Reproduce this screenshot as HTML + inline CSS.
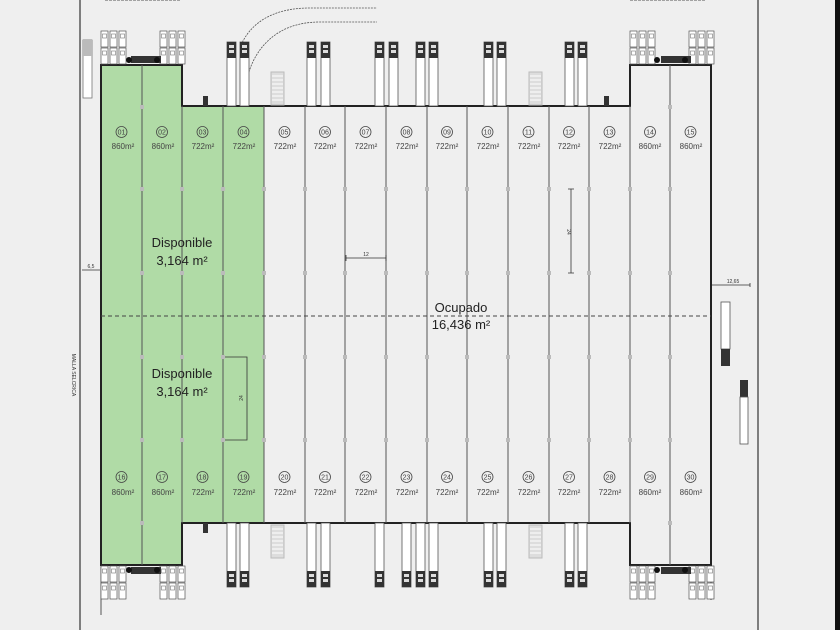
<!DOCTYPE html>
<html><head><meta charset="utf-8"><style>
html,body{margin:0;padding:0;background:#111;}
svg{display:block;font-family:"Liberation Sans",sans-serif;}
</style></head><body>
<svg width="840" height="630" viewBox="0 0 840 630" xmlns="http://www.w3.org/2000/svg">
<defs>
<g id="trk"><rect x="0" y="0" width="9" height="64" fill="#fff" stroke="#555" stroke-width="0.8"/><rect x="0" y="0" width="9" height="16" fill="#333"/><rect x="2" y="3" width="5" height="3" fill="#ddd"/><rect x="2" y="8" width="5" height="3" fill="#ddd"/></g>
<g id="trkb"><rect x="0" y="0" width="9" height="64" fill="#fff" stroke="#555" stroke-width="0.8"/><rect x="0" y="48" width="9" height="16" fill="#333"/><rect x="2" y="51" width="5" height="3" fill="#ddd"/><rect x="2" y="56" width="5" height="3" fill="#ddd"/></g>
<g id="car"><rect x="0" y="0" width="7" height="16" fill="#fff" stroke="#555" stroke-width="0.7"/><rect x="1.5" y="3" width="4" height="4" fill="none" stroke="#777" stroke-width="0.6"/></g>
<g id="park"><use href="#car" x="0"/><use href="#car" x="9"/><use href="#car" x="18"/><use href="#car" x="0" y="17"/><use href="#car" x="9" y="17"/><use href="#car" x="18" y="17"/></g>
<g id="ramp"><rect x="0" y="0" width="13" height="33" fill="#ddd" stroke="#bbb"/><path d="M1 4h11M1 8h11M1 12h11M1 16h11M1 20h11M1 24h11M1 28h11" stroke="#fff" stroke-width="1"/></g>
</defs>
<rect x="0" y="0" width="835" height="630" fill="#efefef"/>
<rect x="835" y="0" width="5" height="630" fill="#111"/>
<line x1="80" y1="0" x2="80" y2="630" stroke="#333" stroke-width="1.2"/>
<line x1="758" y1="0" x2="758" y2="630" stroke="#333" stroke-width="1.2"/>
<line x1="101" y1="565" x2="101" y2="615" stroke="#555" stroke-width="1"/>
<line x1="711" y1="565" x2="711" y2="600" stroke="#555" stroke-width="1"/>
<!-- green -->
<rect x="101" y="65" width="81" height="500" fill="#b0dba6"/>
<rect x="182" y="106" width="82" height="417" fill="#b0dba6"/>
<!-- building outline -->
<path d="M101 65H182V106H630V65H711V565H630V523H182V565H101Z" fill="none" stroke="#222" stroke-width="2"/>
<g stroke="#555" stroke-width="1">
<line x1="142" y1="65" x2="142" y2="565"/><line x1="182" y1="106" x2="182" y2="523"/>
<line x1="223" y1="106" x2="223" y2="523"/><line x1="264" y1="106" x2="264" y2="523"/>
<line x1="305" y1="106" x2="305" y2="523"/><line x1="345" y1="106" x2="345" y2="523"/>
<line x1="386" y1="106" x2="386" y2="523"/><line x1="427" y1="106" x2="427" y2="523"/>
<line x1="467" y1="106" x2="467" y2="523"/><line x1="508" y1="106" x2="508" y2="523"/>
<line x1="549" y1="106" x2="549" y2="523"/><line x1="589" y1="106" x2="589" y2="523"/>
<line x1="630" y1="106" x2="630" y2="523"/><line x1="670" y1="65" x2="670" y2="565"/>
</g>
<line x1="101" y1="316" x2="711" y2="316" stroke="#444" stroke-width="1" stroke-dasharray="4,3"/>
<!-- grid marks -->
<g fill="#bbb">
<rect x="140" y="105" width="4" height="4"/><rect x="668" y="105" width="4" height="4"/>
<rect x="140" y="187" width="4" height="4"/><rect x="180" y="187" width="4" height="4"/><rect x="221" y="187" width="4" height="4"/><rect x="262" y="187" width="4" height="4"/><rect x="303" y="187" width="4" height="4"/><rect x="343" y="187" width="4" height="4"/><rect x="384" y="187" width="4" height="4"/><rect x="425" y="187" width="4" height="4"/><rect x="465" y="187" width="4" height="4"/><rect x="506" y="187" width="4" height="4"/><rect x="547" y="187" width="4" height="4"/><rect x="587" y="187" width="4" height="4"/><rect x="628" y="187" width="4" height="4"/><rect x="668" y="187" width="4" height="4"/>
<rect x="140" y="271" width="4" height="4"/><rect x="180" y="271" width="4" height="4"/><rect x="221" y="271" width="4" height="4"/><rect x="262" y="271" width="4" height="4"/><rect x="303" y="271" width="4" height="4"/><rect x="343" y="271" width="4" height="4"/><rect x="384" y="271" width="4" height="4"/><rect x="425" y="271" width="4" height="4"/><rect x="465" y="271" width="4" height="4"/><rect x="506" y="271" width="4" height="4"/><rect x="547" y="271" width="4" height="4"/><rect x="587" y="271" width="4" height="4"/><rect x="628" y="271" width="4" height="4"/><rect x="668" y="271" width="4" height="4"/>
<rect x="140" y="355" width="4" height="4"/><rect x="180" y="355" width="4" height="4"/><rect x="221" y="355" width="4" height="4"/><rect x="262" y="355" width="4" height="4"/><rect x="303" y="355" width="4" height="4"/><rect x="343" y="355" width="4" height="4"/><rect x="384" y="355" width="4" height="4"/><rect x="425" y="355" width="4" height="4"/><rect x="465" y="355" width="4" height="4"/><rect x="506" y="355" width="4" height="4"/><rect x="547" y="355" width="4" height="4"/><rect x="587" y="355" width="4" height="4"/><rect x="628" y="355" width="4" height="4"/><rect x="668" y="355" width="4" height="4"/>
<rect x="140" y="438" width="4" height="4"/><rect x="180" y="438" width="4" height="4"/><rect x="221" y="438" width="4" height="4"/><rect x="262" y="438" width="4" height="4"/><rect x="303" y="438" width="4" height="4"/><rect x="343" y="438" width="4" height="4"/><rect x="384" y="438" width="4" height="4"/><rect x="425" y="438" width="4" height="4"/><rect x="465" y="438" width="4" height="4"/><rect x="506" y="438" width="4" height="4"/><rect x="547" y="438" width="4" height="4"/><rect x="587" y="438" width="4" height="4"/><rect x="628" y="438" width="4" height="4"/><rect x="668" y="438" width="4" height="4"/>
<rect x="140" y="521" width="4" height="4"/><rect x="668" y="521" width="4" height="4"/>
</g>
<!-- labels -->
<g font-size="8" fill="#444" text-anchor="middle">
<g fill="none" stroke="#444" stroke-width="0.8">
<circle cx="121.5" cy="132" r="5.5"/><circle cx="162" cy="132" r="5.5"/><circle cx="202.5" cy="132" r="5.5"/><circle cx="243.5" cy="132" r="5.5"/><circle cx="284.5" cy="132" r="5.5"/><circle cx="325" cy="132" r="5.5"/><circle cx="365.5" cy="132" r="5.5"/><circle cx="406.5" cy="132" r="5.5"/><circle cx="447" cy="132" r="5.5"/><circle cx="487.5" cy="132" r="5.5"/><circle cx="528.5" cy="132" r="5.5"/><circle cx="569" cy="132" r="5.5"/><circle cx="609.5" cy="132" r="5.5"/><circle cx="650" cy="132" r="5.5"/><circle cx="690.5" cy="132" r="5.5"/>
<circle cx="121.5" cy="477" r="5.5"/><circle cx="162" cy="477" r="5.5"/><circle cx="202.5" cy="477" r="5.5"/><circle cx="243.5" cy="477" r="5.5"/><circle cx="284.5" cy="477" r="5.5"/><circle cx="325" cy="477" r="5.5"/><circle cx="365.5" cy="477" r="5.5"/><circle cx="406.5" cy="477" r="5.5"/><circle cx="447" cy="477" r="5.5"/><circle cx="487.5" cy="477" r="5.5"/><circle cx="528.5" cy="477" r="5.5"/><circle cx="569" cy="477" r="5.5"/><circle cx="609.5" cy="477" r="5.5"/><circle cx="650" cy="477" r="5.5"/><circle cx="690.5" cy="477" r="5.5"/>
</g>
<g font-size="7">
<text x="121.5" y="134.5">01</text><text x="162" y="134.5">02</text><text x="202.5" y="134.5">03</text><text x="243.5" y="134.5">04</text><text x="284.5" y="134.5">05</text><text x="325" y="134.5">06</text><text x="365.5" y="134.5">07</text><text x="406.5" y="134.5">08</text><text x="447" y="134.5">09</text><text x="487.5" y="134.5">10</text><text x="528.5" y="134.5">11</text><text x="569" y="134.5">12</text><text x="609.5" y="134.5">13</text><text x="650" y="134.5">14</text><text x="690.5" y="134.5">15</text>
<text x="121.5" y="479.5">16</text><text x="162" y="479.5">17</text><text x="202.5" y="479.5">18</text><text x="243.5" y="479.5">19</text><text x="284.5" y="479.5">20</text><text x="325" y="479.5">21</text><text x="365.5" y="479.5">22</text><text x="406.5" y="479.5">23</text><text x="447" y="479.5">24</text><text x="487.5" y="479.5">25</text><text x="528.5" y="479.5">26</text><text x="569" y="479.5">27</text><text x="609.5" y="479.5">28</text><text x="650" y="479.5">29</text><text x="690.5" y="479.5">30</text>
</g>
<text x="123" y="149">860m²</text><text x="163" y="149">860m²</text><text x="203" y="149">722m²</text><text x="244" y="149">722m²</text><text x="285" y="149">722m²</text><text x="325" y="149">722m²</text><text x="366" y="149">722m²</text><text x="407" y="149">722m²</text><text x="447" y="149">722m²</text><text x="488" y="149">722m²</text><text x="529" y="149">722m²</text><text x="569" y="149">722m²</text><text x="610" y="149">722m²</text><text x="650" y="149">860m²</text><text x="691" y="149">860m²</text>
<text x="123" y="495">860m²</text><text x="163" y="495">860m²</text><text x="203" y="495">722m²</text><text x="244" y="495">722m²</text><text x="285" y="495">722m²</text><text x="325" y="495">722m²</text><text x="366" y="495">722m²</text><text x="407" y="495">722m²</text><text x="447" y="495">722m²</text><text x="488" y="495">722m²</text><text x="529" y="495">722m²</text><text x="569" y="495">722m²</text><text x="610" y="495">722m²</text><text x="650" y="495">860m²</text><text x="691" y="495">860m²</text>
</g>
<g font-size="13" fill="#222" text-anchor="middle">
<text x="182" y="247">Disponible</text><text x="182" y="265">3,164 m²</text>
<text x="182" y="378">Disponible</text><text x="182" y="396">3,164 m²</text>
<text x="461" y="312">Ocupado</text><text x="461" y="329">16,436 m²</text>
</g>
<!-- dimensions -->
<g stroke="#333" stroke-width="0.8" fill="none">
<path d="M346 258H386M346 255v6M386 255v6"/>
<path d="M571 189V273M568 189h6M568 273h6"/>
<path d="M225 357h22V440h-22"/>
<path d="M82 270H101"/>
<path d="M712 285H750M750 283v4"/>
</g>
<g font-size="5" fill="#333" text-anchor="middle">
<text x="366" y="256">12</text><text x="91" y="268">6,5</text><text x="733" y="283">12,65</text>
<text transform="translate(567 232) rotate(90)">24</text>
<text transform="translate(243 398) rotate(-90)">24</text>
<text transform="translate(72 375) rotate(90)">MALLA SELCRICA</text>
</g>
<!-- curves -->
<path d="M241 45C250 25 270 8 310 8H377" fill="none" stroke="#555" stroke-width="0.8" stroke-dasharray="2,1"/>
<path d="M248 75C255 50 275 22 320 22H377" fill="none" stroke="#555" stroke-width="0.8" stroke-dasharray="2,1"/>
<!-- top trucks -->
<use href="#trk" x="227" y="42"/><use href="#trk" x="240" y="42"/>
<use href="#trk" x="307" y="42"/><use href="#trk" x="321" y="42"/>
<use href="#trk" x="375" y="42"/><use href="#trk" x="389" y="42"/>
<use href="#trk" x="416" y="42"/><use href="#trk" x="429" y="42"/>
<use href="#trk" x="484" y="42"/><use href="#trk" x="497" y="42"/>
<use href="#trk" x="565" y="42"/><use href="#trk" x="578" y="42"/>
<!-- bottom trucks -->
<use href="#trkb" x="227" y="523"/><use href="#trkb" x="240" y="523"/>
<use href="#trkb" x="307" y="523"/><use href="#trkb" x="321" y="523"/>
<use href="#trkb" x="375" y="523"/><use href="#trkb" x="402" y="523"/>
<use href="#trkb" x="416" y="523"/><use href="#trkb" x="429" y="523"/>
<use href="#trkb" x="484" y="523"/><use href="#trkb" x="497" y="523"/>
<use href="#trkb" x="565" y="523"/><use href="#trkb" x="578" y="523"/>
<!-- ramps -->
<use href="#ramp" x="271" y="72"/><use href="#ramp" x="529" y="72"/>
<use href="#ramp" x="271" y="525"/><use href="#ramp" x="529" y="525"/>
<!-- parking -->
<use href="#park" x="101" y="31"/><use href="#park" x="160" y="31"/>
<use href="#park" x="630" y="31"/><use href="#park" x="689" y="31"/>
<use href="#park" x="101" y="566"/><use href="#park" x="160" y="566"/>
<use href="#park" x="630" y="566"/><use href="#park" x="689" y="566"/>
<rect x="131" y="56" width="30" height="7" fill="#333"/><circle cx="129" cy="60" r="3" fill="#111"/><circle cx="157" cy="60" r="3" fill="#111"/>
<rect x="661" y="56" width="30" height="7" fill="#333"/><circle cx="657" cy="60" r="3" fill="#111"/><circle cx="685" cy="60" r="3" fill="#111"/>
<rect x="131" y="567" width="30" height="7" fill="#333"/><circle cx="129" cy="570" r="3" fill="#111"/><circle cx="157" cy="570" r="3" fill="#111"/>
<rect x="661" y="567" width="30" height="7" fill="#333"/><circle cx="657" cy="570" r="3" fill="#111"/><circle cx="685" cy="570" r="3" fill="#111"/>
<rect x="203" y="96" width="5" height="10" fill="#333"/><rect x="604" y="96" width="5" height="10" fill="#333"/>
<rect x="203" y="523" width="5" height="10" fill="#333"/>
<!-- left vehicle -->
<rect x="83" y="40" width="9" height="58" fill="#fff" stroke="#777" stroke-width="0.8"/><rect x="83" y="40" width="9" height="16" fill="#bbb"/>
<!-- right vehicles -->
<rect x="721" y="302" width="9" height="47" fill="#fff" stroke="#555" stroke-width="0.8"/><rect x="721" y="349" width="9" height="17" fill="#333"/>
<rect x="740" y="380" width="8" height="17" fill="#333"/><rect x="740" y="397" width="8" height="47" fill="#fff" stroke="#555" stroke-width="0.8"/>
<!-- top stub -->
<path d="M105 0H180" stroke="#555" stroke-width="1" stroke-dasharray="3,1"/>
<path d="M630 0H705" stroke="#555" stroke-width="1" stroke-dasharray="3,1"/>
</svg>
</body></html>
